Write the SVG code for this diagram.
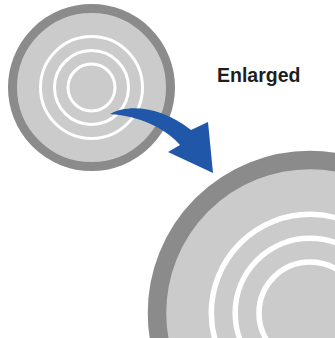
<svg xmlns="http://www.w3.org/2000/svg" width="335" height="338" viewBox="0 0 335 338">
  <style>
    .disc { fill: #cbcbcb; stroke: #8b8b8b; }
    .ring { fill: none; stroke: #ffffff; }
    .label { font-family: "Liberation Sans", Arial, sans-serif; font-weight: bold; fill: #1e1e1e; }
    .arrow { fill: #2157a8; }
  </style>
  <rect width="335" height="338" fill="#ffffff"/>
  <g id="large">
    <circle class="disc" cx="310" cy="313" r="153" stroke-width="18.5"/>
    <circle class="ring" cx="310" cy="313" r="98.7" stroke-width="5.5"/>
    <circle class="ring" cx="310" cy="313" r="74.8" stroke-width="5.5"/>
    <circle class="ring" cx="310" cy="313" r="51" stroke-width="5.5"/>
  </g>
  <g id="small">
    <circle class="disc" cx="91.5" cy="87.5" r="79" stroke-width="9"/>
    <circle class="ring" cx="91.5" cy="87.5" r="51" stroke-width="3"/>
    <circle class="ring" cx="91.5" cy="87.5" r="37" stroke-width="3"/>
    <circle class="ring" cx="91.5" cy="87.5" r="23.5" stroke-width="3"/>
  </g>
  <g id="label">
    <text class="label" x="217" y="82" font-size="19.5">Enlarged</text>
  </g>
  <g id="connectors">
    <path class="arrow" d="M110,114 C128,104 160,106 191,130 L208,122 L213,173 L168,152 L180,145 C165,128 140,116 110,114 Z"/>
  </g>
</svg>
